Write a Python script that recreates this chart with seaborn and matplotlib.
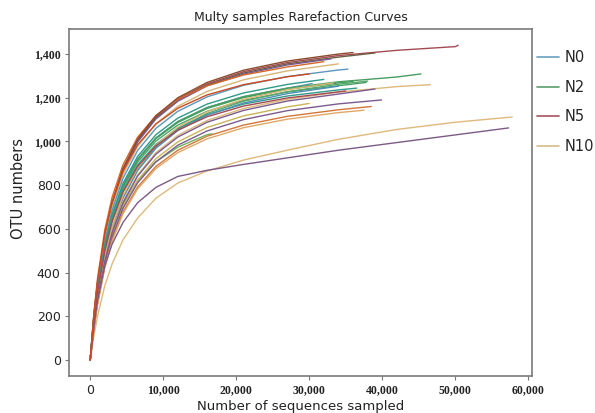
import matplotlib
matplotlib.use("Agg")
import matplotlib.pyplot as plt
import seaborn as sns
import pandas as pd
from matplotlib.lines import Line2D

# ---------------- data ----------------
grid_x = [0, 500, 1000, 2000, 3000, 4500, 6500, 9000, 12000, 16000,
          21000, 27000, 34000, 42000, 50000]

sample_names = [f"S{i}" for i in range(1, 28)]

depths = [50400, 39000, 33000, 32000, 36000, 34000, 35300, 30400, 36000,
          37800, 45300, 32000, 38000, 36500, 16700, 34000, 33300, 46600,
          57800, 30000, 39000, 39900, 38500, 37500, 57300, 35000, 30000]

otu_values = [
    [0, 196, 348, 568, 718, 873, 1006, 1112, 1194, 1263, 1319, 1361, 1393, 1417, 1434, 1440],
    [0, 196, 347, 565, 715, 869, 1001, 1107, 1188, 1258, 1313, 1355, 1386, 1405],
    [0, 195, 346, 563, 713, 866, 998, 1103, 1184, 1254, 1308, 1350, 1378],
    [0, 213, 373, 596, 745, 894, 1020, 1118, 1192, 1255, 1304, 1341, 1365],
    [0, 197, 350, 570, 722, 877, 1011, 1118, 1200, 1270, 1326, 1368, 1400, 1407],
    [0, 191, 339, 552, 699, 849, 978, 1081, 1161, 1229, 1282, 1323, 1355],
    [0, 187, 332, 541, 684, 832, 959, 1060, 1138, 1204, 1257, 1297, 1327, 1331],
    [0, 180, 318, 519, 656, 797, 919, 1016, 1091, 1155, 1205, 1244, 1265],
    [0, 179, 317, 517, 654, 795, 916, 1013, 1087, 1151, 1201, 1239, 1268, 1275],
    [0, 177, 314, 511, 647, 786, 906, 1002, 1075, 1138, 1188, 1226, 1255, 1270],
    [0, 180, 318, 519, 656, 797, 919, 1016, 1091, 1155, 1205, 1244, 1273, 1295, 1309],
    [0, 182, 323, 526, 666, 809, 932, 1031, 1107, 1171, 1222, 1261, 1284],
    [0, 157, 282, 470, 604, 747, 873, 976, 1058, 1128, 1184, 1228, 1262, 1276],
    [0, 174, 309, 504, 638, 775, 893, 987, 1060, 1122, 1171, 1208, 1236, 1244],
    [0, 160, 284, 463, 586, 712, 821, 907, 974, 1031, 1035],
    [0, 156, 280, 467, 600, 741, 867, 969, 1050, 1120, 1176, 1219, 1253],
    [0, 158, 284, 473, 609, 752, 879, 983, 1065, 1136, 1193, 1237, 1268],
    [0, 152, 274, 457, 587, 725, 848, 949, 1028, 1096, 1151, 1193, 1226, 1251, 1260],
    [0, 110, 200, 340, 440, 550, 650, 740, 810, 865, 915, 960, 1010, 1055, 1088, 1112],
    [0, 148, 266, 443, 570, 704, 823, 921, 998, 1064, 1117, 1158, 1174],
    [0, 151, 272, 453, 583, 720, 842, 942, 1020, 1088, 1142, 1185, 1217, 1240],
    [0, 146, 262, 437, 562, 694, 811, 907, 983, 1048, 1100, 1141, 1172, 1190],
    [0, 142, 256, 427, 549, 678, 792, 886, 960, 1024, 1075, 1115, 1145, 1160],
    [0, 141, 253, 422, 542, 670, 783, 876, 949, 1012, 1063, 1102, 1132, 1143],
    [0, 150, 270, 430, 530, 630, 720, 790, 840, 868, 895, 925, 960, 995, 1030, 1062],
    [0, 173, 307, 500, 633, 769, 886, 980, 1052, 1113, 1162, 1199, 1227, 1231],
    [0, 206, 360, 576, 720, 864, 985, 1080, 1152, 1213, 1260, 1296, 1309],
]

line_colors = [
    "#a44a55", "#6b5d3f", "#7b5b8f", "#d4692a", "#8c4b2c", "#d8b575",
    "#5b97bf", "#5b97bf", "#3f9e5c", "#4aa36a", "#4a9e62", "#2f9a8a",
    "#58a86a", "#2f9a8a", "#6cb35a", "#4f8fb8", "#d8b575", "#ddb97a",
    "#dfb97c", "#c9b458", "#7b5b8f", "#7b5b8f", "#d2763a", "#e0a868",
    "#7d5a86", "#a44a55", "#cc4a22",
]

group_labels = ["N0", "N2", "N5", "N10"]
group_colors = ["#6a9fbf", "#5a9e6a", "#a5545c", "#d6bc86"]

x_ticks = [0, 10000, 20000, 30000, 40000, 50000, 60000]
x_tick_labels = ["0", "10,000", "20,000", "30,000", "40,000", "50,000", "60,000"]
y_ticks = [0, 200, 400, 600, 800, 1000, 1200, 1400]
y_tick_labels = ["0", "200", "400", "600", "800", "1,000", "1,200", "1,400"]

# ---------------- build table ----------------
rows = []
for name, d, ys in zip(sample_names, depths, otu_values):
    xs = [g for g in grid_x if g < d] + [d]
    for x, y in zip(xs, ys):
        rows.append((name, x, y))
df = pd.DataFrame(rows, columns=["sample", "seqs", "otus"])

# ---------------- plot ----------------
sns.set_style("ticks")
plt.rcParams["font.family"] = ["DejaVu Sans"]

fig = plt.figure(figsize=(5.95, 4.13), dpi=100)
ax = fig.add_axes([0.116, 0.0896, 0.778, 0.8404])

sns.lineplot(data=df, x="seqs", y="otus", hue="sample",
             palette=dict(zip(sample_names, line_colors)),
             estimator=None, sort=False, legend=False, linewidth=1.0, ax=ax)

ax.set_xlim(-2900, 60500)
ax.set_ylim(-73, 1515)
ax.set_xticks(x_ticks)
ax.set_xticklabels(x_tick_labels)
ax.set_yticks(y_ticks)
ax.set_yticklabels(y_tick_labels)

for lab in ax.get_xticklabels() + ax.get_yticklabels():
    if "," in lab.get_text():
        lab.set_fontfamily("Liberation Serif")
        lab.set_fontweight("bold")
        lab.set_fontsize(8.5)
    else:
        lab.set_fontfamily("DejaVu Sans")
        lab.set_fontsize(9)
    lab.set_color("#222222")

ax.tick_params(axis="both", length=3, width=0.8, color="#777777", pad=3)
for sp in ax.spines.values():
    sp.set_visible(True)
    sp.set_color("#7a7a7a")
    sp.set_linewidth(1.2)

ax.set_title("Multy samples Rarefaction Curves", fontsize=9, pad=6, color="#222222")
ax.set_ylabel("OTU numbers", fontsize=10.5, color="#222222")
ax.set_xlabel("Number of sequences sampled", fontsize=9.5, color="#222222")
ax.yaxis.set_label_coords(-0.093, 0.54)
ax.xaxis.set_label_coords(0.5, -0.068)

handles = [Line2D([0], [0], color=c, lw=1.2) for c in group_colors]
fig.legend(handles, group_labels, loc="upper left",
           bbox_to_anchor=(0.893, 0.893), bbox_transform=fig.transFigure,
           frameon=False, fontsize=10.5, handlelength=1.5,
           handletextpad=0.4, labelspacing=1.0, borderaxespad=0)

fig.savefig("out.png", dpi=100)
